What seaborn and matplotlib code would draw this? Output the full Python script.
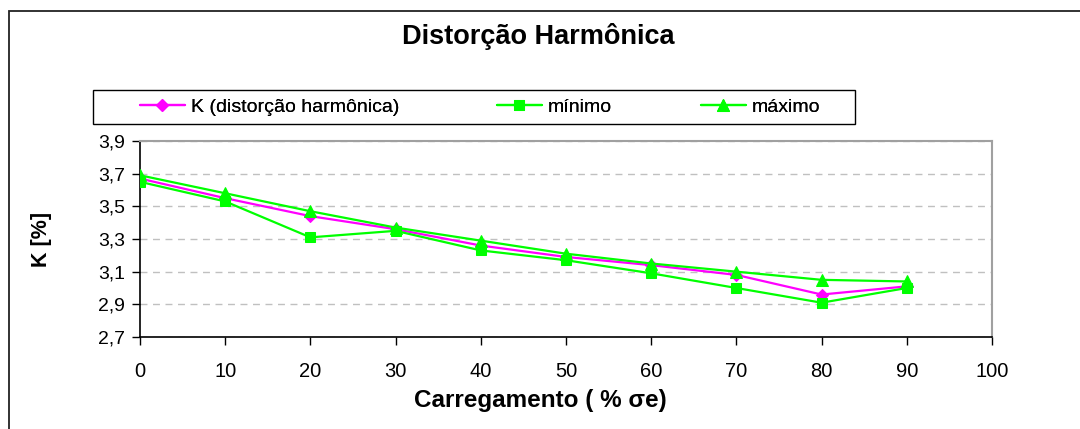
import matplotlib
matplotlib.use("Agg")
import matplotlib.pyplot as plt
from matplotlib.patches import Rectangle
from matplotlib.ticker import FixedLocator
import seaborn as sns
import pandas as pd

# Loading levels (% of sigma_e) and harmonic distortion values [%]
carregamento = [0, 10, 20, 30, 40, 50, 60, 70, 80, 90]
k_distorcao = [3.67, 3.55, 3.44, 3.36, 3.26, 3.19, 3.14, 3.08, 2.96, 3.01]
k_minimo = [3.65, 3.53, 3.31, 3.35, 3.23, 3.17, 3.09, 3.00, 2.91, 3.00]
k_maximo = [3.69, 3.58, 3.47, 3.37, 3.29, 3.21, 3.15, 3.10, 3.05, 3.04]

x_ticks = [0, 10, 20, 30, 40, 50, 60, 70, 80, 90, 100]
y_ticks = [2.7, 2.9, 3.1, 3.3, 3.5, 3.7, 3.9]
y_tick_labels = ["2,7", "2,9", "3,1", "3,3", "3,5", "3,7", "3,9"]

sns.set_style("white")
plt.rcParams["font.family"] = ["Liberation Sans", "DejaVu Sans"]
for key in ["text.color", "axes.labelcolor", "xtick.color", "ytick.color"]:
    plt.rcParams[key] = "black"

W, H = 1080, 429
fig = plt.figure(figsize=(W / 100, H / 100), dpi=100)
fig.patch.set_facecolor("white")

# Axes rectangle in pixels: left 140, right 992, top 141, bottom 337
ax = fig.add_axes([140 / W, 1 - 337 / H, (992 - 140) / W, (337 - 141) / H])

df = pd.DataFrame({
    "x": carregamento,
    "K (distorção harmônica)": k_distorcao,
    "mínimo": k_minimo,
    "máximo": k_maximo,
})

series = [
    ("K (distorção harmônica)", "#FF00FF", "D", 6.5),
    ("mínimo", "#00FF00", "s", 7.5),
    ("máximo", "#00FF00", "^", 9),
]
for name, color, marker, ms in series:
    sns.lineplot(data=df, x="x", y=name, ax=ax, color=color, marker=marker,
                 markersize=ms, markeredgecolor=color, markerfacecolor=color,
                 linewidth=1.6, label=name, legend=False, zorder=3)

ax.set_xlim(0, 100)
ax.set_ylim(2.7, 3.9)
ax.xaxis.set_major_locator(FixedLocator(x_ticks))
ax.set_xticklabels([str(v) for v in x_ticks])
ax.yaxis.set_major_locator(FixedLocator(y_ticks))
ax.set_yticklabels(y_tick_labels)

# Dashed horizontal gridlines
ax.yaxis.grid(True, linestyle=(0, (5, 4)), color="#C0C0C0", linewidth=1)
ax.xaxis.grid(False)
ax.set_axisbelow(True)

for side in ["top", "right"]:
    ax.spines[side].set_color("#A0A0A0")
    ax.spines[side].set_linewidth(1.5)
for side in ["left", "bottom"]:
    ax.spines[side].set_color("black")
    ax.spines[side].set_linewidth(1.2)

ax.tick_params(axis="y", direction="out", length=6, width=1, color="black",
               pad=5, labelsize=14)
ax.tick_params(axis="x", direction="out", length=6, width=1, color="black",
               pad=12, labelsize=14.5)
ax.tick_params(left=True, bottom=True)

ax.set_xlabel("Carregamento ( % σe)", fontsize=17.5, fontweight="bold")
ax.xaxis.set_label_coords((540 - 140) / (992 - 140), (337 - 389) / (337 - 141))
ax.set_ylabel("K [%]", fontsize=15.5, fontweight="bold")
ax.yaxis.set_label_coords((52 - 140) / (992 - 140), 0.5)

fig.text(538 / W, 1 - 37 / H, "Distorção Harmônica", ha="center", va="center",
         fontsize=19.5, fontweight="bold")

# Legend: one entry per slot along a single row, inside a drawn box
handles, labels = ax.get_legend_handles_labels()
entry_x = [140, 497, 701]
for h, lab, x0 in zip(handles, labels, entry_x):
    leg = fig.legend([h], [lab], loc="center left",
                     bbox_to_anchor=(x0 / W, 1 - 107 / H), fontsize=14,
                     frameon=False, handlelength=2.3, handletextpad=0.3,
                     borderpad=0, borderaxespad=0)
    fig.add_artist(leg)
fig.patches.append(Rectangle((93 / W, 1 - 124 / H), (855 - 93) / W, 34 / H,
                             transform=fig.transFigure, fill=False,
                             edgecolor="black", linewidth=1.0))

# Outer chart frame
fig.patches.append(Rectangle((9 / W, -0.1), 1.2, 1 - 11 / H + 0.1,
                             transform=fig.transFigure, fill=False,
                             edgecolor="#222222", linewidth=1.3))

fig.savefig("out.png", dpi=100, facecolor="white")
